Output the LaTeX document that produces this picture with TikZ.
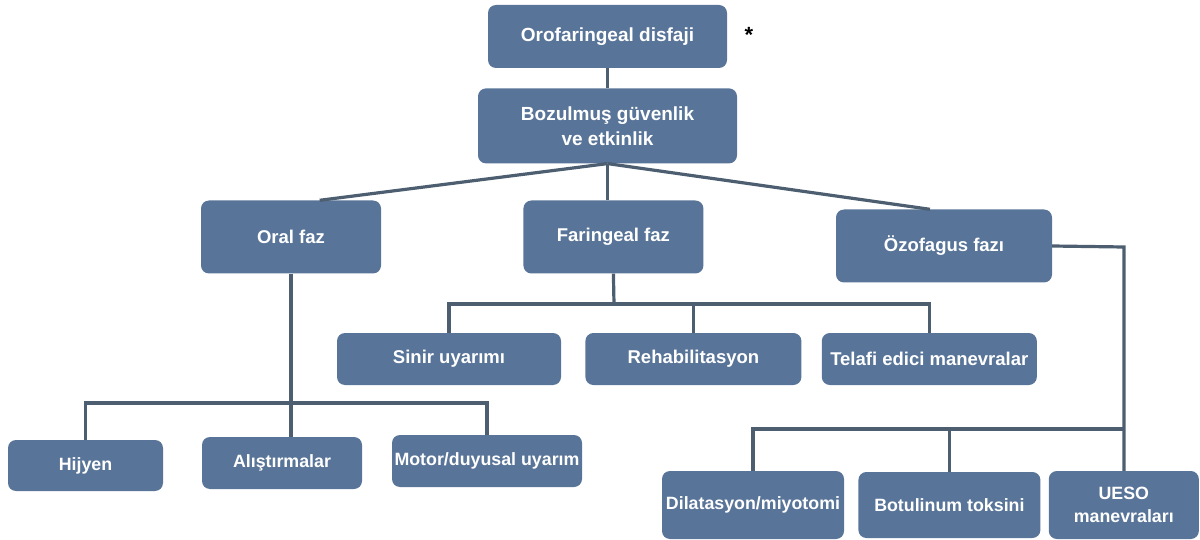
\documentclass[tikz,border=0pt]{standalone}
\usepackage{fontspec}
\setmainfont{Liberation Sans}
\usetikzlibrary{positioning}

\definecolor{boxblue}{RGB}{88,116,152}
\definecolor{linegrey}{RGB}{76,94,112}

\begin{document}
\begin{tikzpicture}[x=1pt,y=-1pt,
    box/.style={rectangle, rounded corners=8pt, fill=boxblue, text=white,
      align=center, inner sep=1pt},
    big/.style={font=\bfseries\fontsize{19}{25}\selectfont},
    mid/.style={font=\bfseries\fontsize{18.5}{22}\selectfont},
    small/.style={font=\bfseries\fontsize{17.8}{23}\selectfont},
    link/.style={draw=linegrey, line width=3.2pt}]

  \useasboundingbox (0,0) rectangle (1200,540);

  \node[box, big, minimum width=239pt, minimum height=63pt] (0) at (607.5,36.5) {Orofaringeal disfaji};
  \node[box, big, minimum width=259pt, minimum height=75pt] (1) [below=20pt of 0] {Bozulmuş güvenlik\\ve etkinlik};
  \node[font=\bfseries\fontsize{22}{22}\selectfont] (star) at (749,35) {*};

  \node[box, mid, minimum width=180pt, minimum height=73pt] (2) at (291,237) {Oral faz};
  \node[box, mid, minimum width=180pt, minimum height=73pt] (3) [right=142pt of 2] {Faringeal faz};
  \node[box, mid, minimum width=216pt, minimum height=73pt] (4) at (944,246) {Özofagus fazı};

  \node[box, mid, minimum width=224pt, minimum height=52pt] (5) at (449,359) {Sinir uyarımı};
  \node[box, mid, minimum width=216pt, minimum height=52pt] (6) [right=24pt of 5] {Rehabilitasyon};
  \node[box, mid, minimum width=215pt, minimum height=52pt] (7) [right=20pt of 6] {Telafi edici manevralar};

  \node[box, small, minimum width=155pt, minimum height=51pt] (8) at (85.5,465.5) {Hijyen};
  \node[box, small, minimum width=160pt, minimum height=52pt] (9) at (282,463) {Alıştırmalar};
  \node[box, small, minimum width=190pt, minimum height=52pt] (10) at (487,461) {Motor/duyusal uyarım};

  \node[box, small, minimum width=182pt, minimum height=68pt] (11) at (753,505) {Dilatasyon/miyotomi};
  \node[box, small, minimum width=182pt, minimum height=66pt] (12) [right=14pt of 11] {Botulinum toksini};
  \node[box, small, minimum width=150pt, minimum height=68pt] (13) [right=8pt of 12] {UESO\\manevraları};

  % bus points
  \coordinate (fb) at (614,304);
  \coordinate (ob) at (291,403);
  \coordinate (zc) at (1124,247);
  \coordinate (zb) at (1124,429);

  \path[link]
    (0) edge (1)
    (1.south) edge (2.52)
    (1.south) edge (1.south |- 3.north)
    (1.south) edge (4.111)
    ;

  % faringeal faz
  \draw[link] (3.south) -- (fb);
  \draw[link] (5.north) |- (fb) -| (7.north);
  \draw[link] (6.north) -- (6.north |- fb);

  % oral faz
  \draw[link] (2.south) -- (2.south |- 9.north);
  \draw[link] (8.north) |- (ob) -| (10.north);

  % ozofagus fazi
  \draw[link] (4.east) -- (zc) -- (zc |- 13.north);
  \draw[link] (11.north) |- (zb);
  \draw[link] (12.north) -- (12.north |- zb);
\end{tikzpicture}
\end{document}
